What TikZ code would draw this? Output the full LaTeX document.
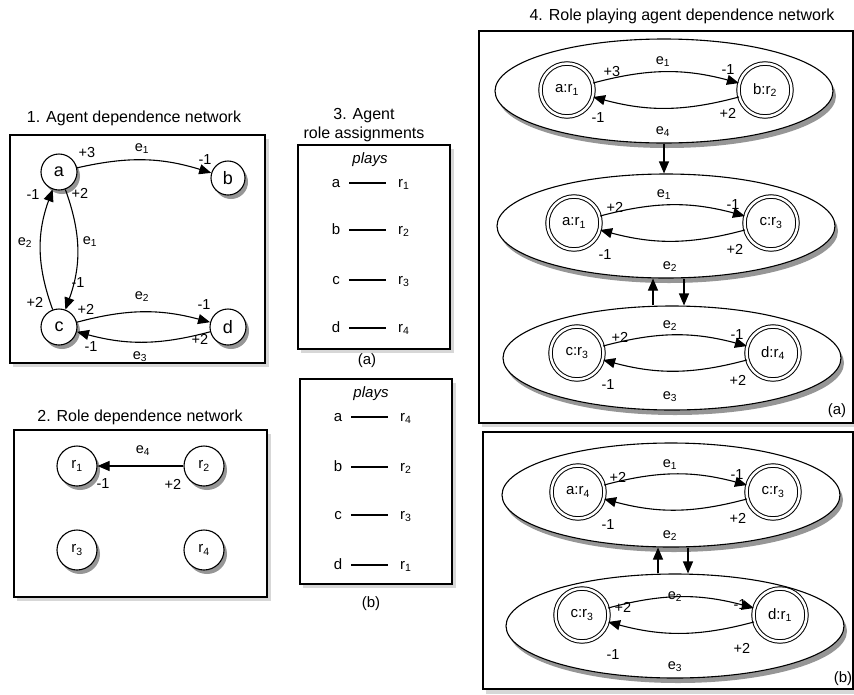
\documentclass[tikz,border=0pt]{standalone}
\usepackage{fontspec}
\setmainfont{Liberation Sans}
\usetikzlibrary{arrows.meta,shapes.geometric}

\newcommand{\ix}[1]{\textsubscript{#1}}

\definecolor{shadegray}{RGB}{150,150,150}
\definecolor{panelgray}{RGB}{215,215,215}

\tikzset{
  panel/.style={draw, line width=1.2pt, fill=white},
  panelshade/.style={fill=panelgray},
  nodeshade/.style={fill=shadegray},
  agent/.style={circle, draw, line width=1.1pt, fill=white, minimum size=36pt,
    inner sep=0pt, font=\fontsize{18}{20}\selectfont},
  role/.style={agent, minimum size=40pt, font=\fontsize{15}{18}\selectfont},
  rpa/.style={circle, draw, double, double distance=2.5pt, line width=1pt,
    fill=white, minimum size=53pt, inner sep=0pt, font=\fontsize{15}{18}\selectfont},
  group/.style={ellipse, draw, line width=1.1pt, fill=white, minimum width=338pt,
    minimum height=104pt, inner sep=0pt},
  lbl/.style={font=\fontsize{14.5}{16}\selectfont, inner sep=0pt},
  title/.style={font=\fontsize{16}{19}\selectfont, align=center},
  txt/.style={font=\fontsize{15}{18}\selectfont, inner sep=1pt, text height=8pt, text depth=0pt},
  dep/.style={line width=1.1pt, -{Triangle[length=12pt,width=10pt]}},
}

\begin{document}
\begin{tikzpicture}[x=1pt, y=1pt]

    \useasboundingbox (0,0) rectangle (854,-694);
    \fill[white] (0,0) rectangle (854,-694);

    % panel frames
    \fill[panelshade] (13,-139) rectangle (269,-367);
    \draw[panel] (10,-135) rectangle (265,-363);
    \fill[panelshade] (17,-434) rectangle (271,-601);
    \draw[panel] (14,-430) rectangle (267,-597);
    \fill[panelshade] (301,-149) rectangle (454,-353);
    \draw[panel] (298,-145) rectangle (450,-349);
    \fill[panelshade] (303,-383) rectangle (456,-588);
    \draw[panel] (300,-379) rectangle (452,-584);
    \fill[panelshade] (482,-35) rectangle (857,-427);
    \draw[panel] (479,-31) rectangle (853,-423);
    \fill[panelshade] (486,-436) rectangle (857,-694);
    \draw[panel] (483,-432) rectangle (853,-689);

    % shadows of the circles and ellipses
    \fill[nodeshade] (62,-176) circle (18);
    \fill[nodeshade] (231,-182) circle (17);
    \fill[nodeshade] (62,-331) circle (18);
    \fill[nodeshade] (231,-331) circle (18);
    \fill[nodeshade] (80,-470) circle (20);
    \fill[nodeshade] (207,-470) circle (20);
    \fill[nodeshade] (80,-554) circle (20);
    \fill[nodeshade] (207,-554) circle (20);
    \fill[nodeshade] (667,-96) ellipse (169 and 52);
    \fill[nodeshade] (669,-231) ellipse (169 and 52);
    \fill[nodeshade] (675,-363) ellipse (169 and 52);
    \fill[nodeshade] (674,-500) ellipse (169 and 52);
    \fill[nodeshade] (678,-631) ellipse (169 and 52);

    % 1. Agent dependence network
    \node[title] (t1) at (134,-118) {1. Agent dependence network};

    \node[agent] (a) at (59,-172) {a};
    \node[agent, minimum size=34pt] (b) at (228,-178) {b};
    \node[agent] (c) at (59,-327) {c};
    \node[agent] (d) at (228,-327) {d};

    \draw[dep] (a) to[bend left=15] (b);
    \draw[dep] (a) to[bend left=20] (c);
    \draw[dep] (c) to[bend left=20] (a);
    \draw[dep] (c) to[bend left=15] (d);
    \draw[dep] (d) to[bend left=15] (c);

    \node[lbl] (ab1) at (142,-149) {e\ix{1}};
    \node[lbl] (ab2) at (87,-153) {+3};
    \node[lbl] (ab3) at (205,-160) {-1};
    \node[lbl] (ac1) at (90,-242) {e\ix{1}};
    \node[lbl] (ac2) at (80,-193) {+2};
    \node[lbl] (ac3) at (78,-283) {-1};
    \node[lbl] (ca1) at (25,-243) {e\ix{2}};
    \node[lbl] (ca2) at (33,-195) {-1};
    \node[lbl] (ca3) at (35,-302) {+2};
    \node[lbl] (cd1) at (142,-297) {e\ix{2}};
    \node[lbl] (cd2) at (86,-309) {+2};
    \node[lbl] (cd3) at (204,-305) {-1};
    \node[lbl] (dc1) at (140,-357) {e\ix{3}};
    \node[lbl] (dc2) at (200,-339) {+2};
    \node[lbl] (dc3) at (91,-347) {-1};

    % 2. Role dependence network
    \node[title] (t2) at (140,-417) {2. Role dependence network};

    \node[role] (r1) at (77,-466) {r\ix{1}};
    \node[role] (r2) at (204,-466) {r\ix{2}};
    \node[role] (r3) at (77,-550) {r\ix{3}};
    \node[role] (r4) at (204,-550) {r\ix{4}};

    \draw[dep] (r2) -- (r1);
    \node[lbl] (rr1) at (143,-451) {e\ix{4}};
    \node[lbl] (rr2) at (103,-484) {-1};
    \node[lbl] (rr3) at (173,-484) {+2};

    % 3. Agent role assignments
    \node[title] (t3) at (364,-125) {3. Agent\\role assignments};

    % (a)
    \node[txt, font=\fontsize{15}{18}\itshape] (pl1) at (370,-159) {plays};
    \node[txt] (pa1) at (336,-183) {a};
    \node[txt] (pa2) at (336,-230) {b};
    \node[txt] (pa3) at (336,-280) {c};
    \node[txt] (pa4) at (336,-328) {d};
    \node[txt, anchor=west] (pr1) at (397,-183) {r\ix{1}};
    \node[txt, anchor=west] (pr2) at (397,-230) {r\ix{2}};
    \node[txt, anchor=west] (pr3) at (397,-280) {r\ix{3}};
    \node[txt, anchor=west] (pr4) at (397,-328) {r\ix{4}};
    \draw[line width=1.1pt, shorten <=8pt, shorten >=11pt] (pa1) -- (pr1);
    \draw[line width=1.1pt, shorten <=8pt, shorten >=11pt] (pa2) -- (pr2);
    \draw[line width=1.1pt, shorten <=8pt, shorten >=11pt] (pa3) -- (pr3);
    \draw[line width=1.1pt, shorten <=8pt, shorten >=11pt] (pa4) -- (pr4);
    \node[txt] (ca) at (367,-360) {(a)};

    % (b)
    \node[txt, font=\fontsize{15}{18}\itshape] (pl2) at (371,-393) {plays};
    \node[txt] (qa1) at (338,-417) {a};
    \node[txt] (qa2) at (338,-467) {b};
    \node[txt] (qa3) at (338,-515) {c};
    \node[txt] (qa4) at (338,-565) {d};
    \node[txt, anchor=west] (qr1) at (399,-417) {r\ix{4}};
    \node[txt, anchor=west] (qr2) at (399,-467) {r\ix{2}};
    \node[txt, anchor=west] (qr3) at (399,-515) {r\ix{3}};
    \node[txt, anchor=west] (qr4) at (399,-565) {r\ix{1}};
    \draw[line width=1.1pt, shorten <=8pt, shorten >=11pt] (qa1) -- (qr1);
    \draw[line width=1.1pt, shorten <=8pt, shorten >=11pt] (qa2) -- (qr2);
    \draw[line width=1.1pt, shorten <=8pt, shorten >=11pt] (qa3) -- (qr3);
    \draw[line width=1.1pt, shorten <=8pt, shorten >=11pt] (qa4) -- (qr4);
    \node[txt] (cb) at (371,-603) {(b)};

    % 4. Role playing agent dependence network
    \node[title] (t4) at (682,-16) {4. Role playing agent dependence network};

    % (a)
    \node[group] (g1) at (664,-91) {};
    \node[group] (g2) at (666,-226) {};
    \node[group] (g3) at (672,-358) {};

    \node[rpa] (ar1) at (567,-90) {a:r\ix{1}};
    \node[rpa] (br2) at (765,-90) {b:r\ix{2}};
    \draw[dep] (ar1) to[bend left=15] (br2);
    \draw[dep] (br2) to[bend left=15] (ar1);
    \node[lbl] (g1l1) at (663,-62) {e\ix{1}};
    \node[lbl] (g1l2) at (612,-72) {+3};
    \node[lbl] (g1l3) at (728,-70) {-1};
    \node[lbl] (g1l4) at (598,-118) {-1};
    \node[lbl] (g1l5) at (728,-113) {+2};
    \node[lbl] (g1l6) at (663,-132) {e\ix{4}};

    \node[rpa] (ar1b) at (574,-223) {a:r\ix{1}};
    \node[rpa] (cr3) at (771,-223) {c:r\ix{3}};
    \draw[dep] (ar1b) to[bend left=15] (cr3);
    \draw[dep] (cr3) to[bend left=15] (ar1b);
    \node[lbl] (g2l1) at (664,-195) {e\ix{1}};
    \node[lbl] (g2l2) at (615,-207) {+2};
    \node[lbl] (g2l3) at (733,-205) {-1};
    \node[lbl] (g2l4) at (605,-255) {-1};
    \node[lbl] (g2l5) at (735,-249) {+2};
    \node[lbl] (g2l6) at (670,-267) {e\ix{2}};

    \node[rpa] (cr3b) at (577,-353) {c:r\ix{3}};
    \node[rpa] (dr4) at (773,-353) {d:r\ix{4}};
    \draw[dep] (cr3b) to[bend left=15] (dr4);
    \draw[dep] (dr4) to[bend left=15] (cr3b);
    \node[lbl] (g3l1) at (670,-326) {e\ix{2}};
    \node[lbl] (g3l2) at (620,-337) {+2};
    \node[lbl] (g3l3) at (737,-335) {-1};
    \node[lbl] (g3l4) at (608,-385) {-1};
    \node[lbl] (g3l5) at (738,-380) {+2};
    \node[lbl] (g3l6) at (670,-397) {e\ix{3}};

    \draw[dep] (g1.south) -- (g1.south |- g2.north);
    \draw[dep] ([xshift=-19pt]g3.north) -- ([xshift=-13pt]g2.south);
    \draw[dep] ([xshift=18pt]g2.south) -- ([xshift=12pt]g3.north);
    \node[txt] (la) at (837,-410) {(a)};

    % (b)
    \node[group] (g4) at (671,-495) {};
    \node[group] (g5) at (675,-626) {};

    \node[rpa] (ar4) at (578,-492) {a:r\ix{4}};
    \node[rpa] (cr3c) at (773,-492) {c:r\ix{3}};
    \draw[dep] (ar4) to[bend left=15] (cr3c);
    \draw[dep] (cr3c) to[bend left=15] (ar4);
    \node[lbl] (g4l1) at (670,-465) {e\ix{1}};
    \node[lbl] (g4l2) at (618,-477) {+2};
    \node[lbl] (g4l3) at (737,-475) {-1};
    \node[lbl] (g4l4) at (608,-525) {-1};
    \node[lbl] (g4l5) at (738,-518) {+2};
    \node[lbl] (g4l6) at (670,-536) {e\ix{2}};

    \node[rpa] (cr3d) at (582,-615) {c:r\ix{3}};
    \node[rpa] (dr1) at (780,-615) {d:r\ix{1}};
    \draw[dep] (cr3d) to[bend left=15] (dr1);
    \draw[dep] (dr1) to[bend left=15] (cr3d);
    \node[lbl] (g5l1) at (675,-597) {e\ix{2}};
    \node[lbl] (g5l2) at (623,-607) {+2};
    \node[lbl] (g5l3) at (740,-605) {-1};
    \node[lbl] (g5l4) at (613,-655) {-1};
    \node[lbl] (g5l5) at (742,-648) {+2};
    \node[lbl] (g5l6) at (675,-667) {e\ix{3}};

    \draw[dep] ([xshift=-17pt]g5.north) -- ([xshift=-13pt]g4.south);
    \draw[dep] ([xshift=17pt]g4.south) -- ([xshift=13pt]g5.north);
    \node[txt] (lb) at (843,-678) {(b)};

\end{tikzpicture}
\end{document}
